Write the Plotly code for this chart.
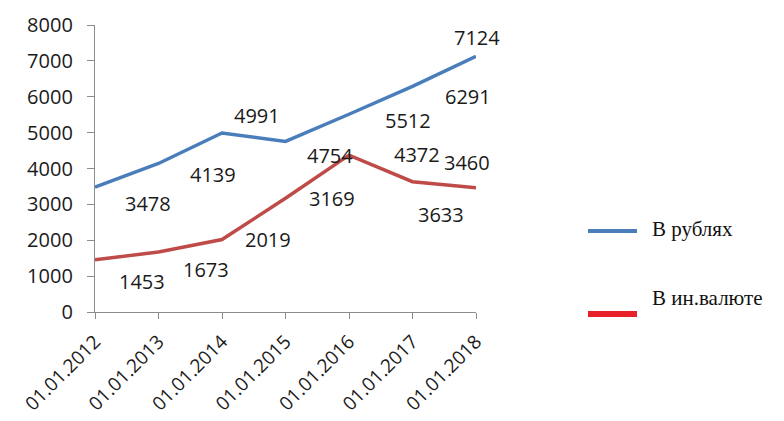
import plotly.graph_objects as go

categories = ["01.01.2012", "01.01.2013", "01.01.2014", "01.01.2015",
              "01.01.2016", "01.01.2017", "01.01.2018"]
rub = [3478, 4139, 4991, 4754, 5512, 6291, 7124]
fx = [1453, 1673, 2019, 3169, 4372, 3633, 3460]
y_ticks = [0, 1000, 2000, 3000, 4000, 5000, 6000, 7000, 8000]

# label offsets (pixels) relative to points, as placed in the original
rub_dx = [53, 54, 35, 44, 59, 55, 1]
rub_dy = [16, 11, -17, 14, 6, 10, -19]
fx_dx = [47, 47, 46, 46, 68, 28, -9]
fx_dy = [22, 18, 0, 0, -1, 33, -25]

# page body has an 8px margin; compensate so the plot lands where the original is
OFF = 8
SW, SH = 784, 421
W, H = SW - OFF, SH - OFF
PL, PR, PT, PB = 95, 476, 25, 312   # plot area in screen pixels
L, T = PL - OFF, PT - OFF
PW, PH = PR - PL, PB - PT
R, B = W - L - PW, H - T - PH

BLUE = "#4a7ebb"
RED = "#be4b48"
xs = list(range(len(categories)))

fig = go.Figure()
fig.add_trace(go.Scatter(x=xs, y=rub, mode="lines", line=dict(color=BLUE, width=3.5),
                         name="В рублях", showlegend=False))
fig.add_trace(go.Scatter(x=xs, y=fx, mode="lines", line=dict(color=RED, width=3.5),
                         name="В ин.валюте", showlegend=False))

lab_font = dict(family="Open Sans", size=20, color="#1a1a1a")
for vals, dxs, dys in [(rub, rub_dx, rub_dy), (fx, fx_dx, fx_dy)]:
    for i, v in enumerate(vals):
        fig.add_annotation(x=xs[i], y=v, text=str(v), showarrow=False,
                           xshift=dxs[i], yshift=-dys[i], font=lab_font)

def px(x):
    return (x - PL) / PW

def py(y):
    return (PB - y) / PH

legend_items = [("В рублях", BLUE, 4, 231, 229), ("В ин.валюте", "#e8202a", 6, 314, 298)]
for name, col, w, ly, ty in legend_items:
    fig.add_shape(type="line", xref="paper", yref="paper",
                  x0=px(588), x1=px(637), y0=py(ly), y1=py(ly),
                  line=dict(color=col, width=w))
    fig.add_annotation(xref="paper", yref="paper", x=px(650), y=py(ty), text=name,
                       showarrow=False, xanchor="left", yanchor="middle",
                       font=dict(family="Liberation Serif", size=21, color="#111111"))

fig.update_layout(
    width=W, height=H,
    margin=dict(l=L, r=R, t=T, b=B, autoexpand=False),
    paper_bgcolor="white", plot_bgcolor="white",
    showlegend=False,
)
fig.update_xaxes(range=[0, 6], tickmode="array", tickvals=xs, ticktext=categories,
                 tickangle=-45, showgrid=False, zeroline=False,
                 showline=True, linecolor="#8c8c8c", linewidth=1.3,
                 ticks="outside", ticklen=6, tickcolor="#8c8c8c",
                 ticklabelstandoff=4,
                 tickfont=dict(family="Open Sans", size=19, color="#1a1a1a"))
fig.update_yaxes(range=[0, 8000], tickmode="array", tickvals=y_ticks,
                 showgrid=False, zeroline=False,
                 showline=True, linecolor="#8c8c8c", linewidth=1.3,
                 ticks="outside", ticklen=7, tickcolor="#8c8c8c",
                 ticklabelstandoff=10,
                 tickfont=dict(family="Open Sans", size=20, color="#1a1a1a"))

fig.write_html("out.html")
